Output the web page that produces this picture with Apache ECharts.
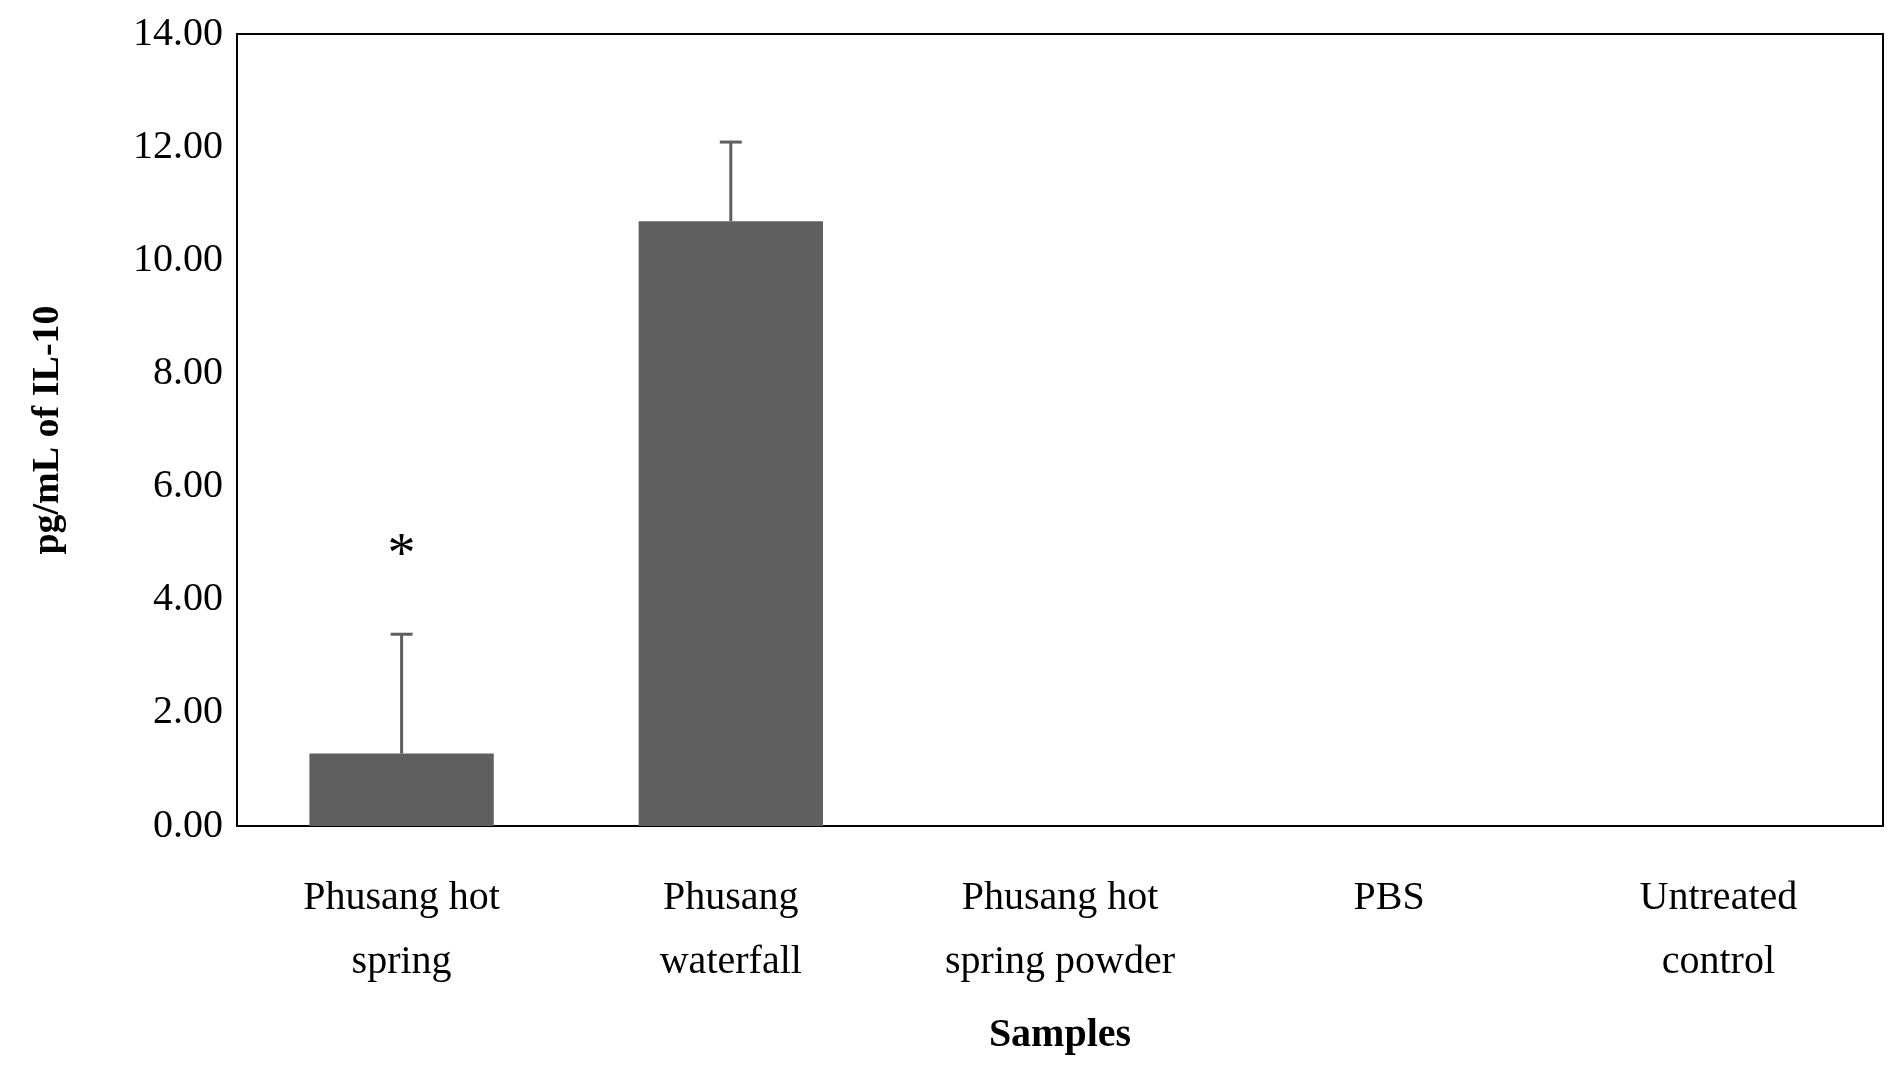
<!DOCTYPE html>
<html>
<head>
<meta charset="utf-8">
<script src="https://cdn.jsdelivr.net/npm/echarts@6/dist/echarts.min.js"></script>
<style>html,body{margin:0;background:#fff}#c{width:1899px;height:1080px}</style>
</head>
<body>
<div id="c"></div>
<script>
// 数据
var categories = ['Phusang hot\nspring', 'Phusang\nwaterfall', 'Phusang hot\nspring powder', 'PBS', 'Untreated\ncontrol'];
var values = [1.28, 10.69, 0, 0, 0];
var errors = [2.11, 1.40, 0, 0, 0];
var marks = ['*', '', '', '', ''];
var markY = [4.75, 0, 0, 0, 0];

var font = '"Liberation Serif", "DejaVu Serif", serif';
var myechart = echarts.init(document.getElementById('c'));
var option = {
    animation: false,
    grid: { left: 237, right: 16, top: 34, bottom: 254, show: true, borderColor: '#000', borderWidth: 2 },
    xAxis: {
        type: 'category',
        data: categories,
        name: 'Samples',
        nameLocation: 'middle',
        nameGap: 190,
        nameTextStyle: { fontFamily: font, fontSize: 40, fontWeight: 'bold', color: '#000' },
        axisTick: { show: false },
        axisLine: { lineStyle: { color: '#000', width: 2 } },
        axisLabel: { fontFamily: font, fontSize: 40, color: '#000', margin: 40, lineHeight: 64, interval: 0 }
    },
    yAxis: {
        type: 'value',
        min: 0, max: 14, interval: 2,
        name: 'pg/mL of IL-10',
        nameLocation: 'middle',
        nameGap: 170,
        nameTextStyle: { fontFamily: font, fontSize: 38, fontWeight: 'bold', color: '#000' },
        splitLine: { show: false },
        axisLine: { show: true, lineStyle: { color: '#000', width: 2 } },
        axisTick: { show: false },
        axisLabel: { fontFamily: font, fontSize: 40, color: '#000', margin: 14, formatter: function (v) { return v.toFixed(2); } }
    },
    series: [
        {
            type: 'bar',
            data: values,
            barWidth: '56%',
            itemStyle: { color: '#5f5f5f' }
        },
        {
            // 误差线（只画上半部分）
            type: 'custom',
            data: values.map(function (v, i) { return [i, v, errors[i]]; }),
            renderItem: function (params, api) {
                var e = api.value(2);
                if (!e) return;
                var p0 = api.coord([api.value(0), api.value(1)]);
                var p1 = api.coord([api.value(0), api.value(1) + e]);
                return {
                    type: 'group', children: [
                        { type: 'line', shape: { x1: p0[0], y1: p0[1], x2: p1[0], y2: p1[1] }, style: { stroke: '#5f5f5f', lineWidth: 3 } },
                        { type: 'line', shape: { x1: p1[0] - 11, y1: p1[1], x2: p1[0] + 11, y2: p1[1] }, style: { stroke: '#5f5f5f', lineWidth: 3 } }
                    ]
                };
            },
            z: 3
        },
        {
            // 显著性标记
            type: 'custom',
            data: markY.map(function (v, i) { return [i, v]; }),
            renderItem: function (params, api) {
                var t = marks[params.dataIndex];
                if (!t) return;
                var p = api.coord([api.value(0), api.value(1)]);
                return { type: 'text', x: p[0], y: p[1], style: { text: t, fontFamily: font, fontSize: 56, fill: '#000', align: 'center', verticalAlign: 'middle' } };
            }
        }
    ]
};
myechart.setOption(option);
</script>
</body>
</html>
